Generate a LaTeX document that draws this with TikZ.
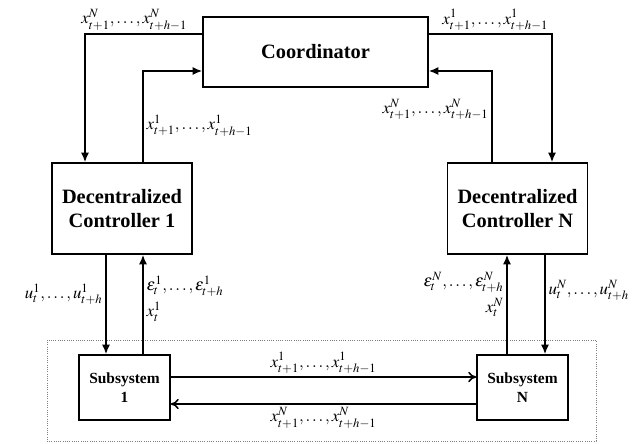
\documentclass[tikz,border=0pt]{standalone}
\usepackage{mathptmx}
\usepackage{fontspec}
\setmainfont{Liberation Serif}
\usepackage{tikz}
\usetikzlibrary{arrows.meta,positioning,calc}
\tikzset{
  blk/.style={draw=black, line width=1.1pt, fill=white, align=center,
              font=\fontsize{14.5}{17}\selectfont\bfseries, inner sep=2pt},
  subb/.style={blk, font=\fontsize{11}{13.5}\selectfont\bfseries,
              minimum width=2.275cm, minimum height=1.625cm},
  ctrl/.style={blk, minimum width=3.5cm, minimum height=2.275cm},
  plantbox/.style={draw=gray, densely dotted, line width=0.6pt},
  arr/.style={-{Latex[length=2.4mm,width=2mm]}, line width=1.1pt},
  harr/.style={-{To[length=2mm,width=2.6mm]}, line width=1.1pt},
  lbl/.style={font=\fontsize{12}{14}\selectfont, inner sep=2pt},
}

\begin{document}
\begin{tikzpicture}
  \useasboundingbox (0,0) rectangle (16.075,11.075);
  % plant boundary
  \node[plantbox, minimum width=13.725cm, minimum height=2.525cm] (plant) at (8.0375,1.3125) {};
  % blocks
  \node[blk, minimum width=5.625cm, minimum height=1.75cm] (coord) at (7.8875,9.775) {Coordinator};
  \node[ctrl] (dcA) at (3.05,5.8625) {Decentralized\\Controller 1};
  \node[ctrl] (dcB) at (12.9375,5.8625) {Decentralized\\Controller N};
  \node[subb] (subA) at (3.1125,1.3875) {Subsystem\\1};
  \node[subb] (subB) at (13.0625,1.3875) {Subsystem\\N};
  % coordinator <-> controllers
  \draw[arr] ([yshift=0.45cm]coord.west) -| ([xshift=-0.925cm]dcA.north)
    node[lbl, above, pos=0.29] {$x^N_{t+1},\ldots,x^N_{t+h-1}$};
  \draw[arr] ([xshift=0.525cm]dcA.north) |- ([yshift=-0.475cm]coord.west)
    node[lbl, right, pos=0.2] {$x^1_{t+1},\ldots,x^1_{t+h-1}$};
  \draw[arr] ([yshift=0.45cm]coord.east) -| ([xshift=0.8625cm]dcB.north)
    node[lbl, above, pos=0.27] {$x^1_{t+1},\ldots,x^1_{t+h-1}$};
  \draw[arr] ([xshift=-0.6375cm]dcB.north) |- ([yshift=-0.475cm]coord.east)
    node[lbl, left, pos=0.29] {$x^N_{t+1},\ldots,x^N_{t+h-1}$};
  % controllers <-> subsystems
  \draw[arr] ([xshift=-0.4cm]dcA.south) -- ([xshift=-0.4cm]dcA.south |- subA.north)
    node[lbl, left, pos=0.4] {$u^1_t,\ldots,u^1_{t+h}$};
  \draw[arr] ([xshift=0.525cm]dcA.south |- subA.north) -- ([xshift=0.525cm]dcA.south)
    node[lbl, right, align=left, pos=0.56] {$\varepsilon^1_t,\ldots,\varepsilon^1_{t+h}$\\[3pt]$x^1_t$};
  \draw[arr] ([xshift=-0.2625cm]dcB.south |- subB.north) -- ([xshift=-0.2625cm]dcB.south)
    node[lbl, left, align=right, pos=0.6] {$\varepsilon^N_t,\ldots,\varepsilon^N_{t+h}$\\[3pt]$x^N_t$};
  \draw[arr] ([xshift=0.6875cm]dcB.south) -- ([xshift=0.6875cm]dcB.south |- subB.north)
    node[lbl, right, pos=0.36] {$u^N_t,\ldots,u^N_{t+h}$};
  % subsystem coupling
  \draw[harr] ([yshift=0.2625cm]subA.east) -- ([yshift=0.2625cm]subA.east -| subB.west)
    node[lbl, above, midway] {$x^1_{t+1},\ldots,x^1_{t+h-1}$};
  \draw[harr] ([yshift=-0.4125cm]subA.east -| subB.west) -- ([yshift=-0.4125cm]subA.east)
    node[lbl, below, midway] {$x^N_{t+1},\ldots,x^N_{t+h-1}$};
\end{tikzpicture}
\end{document}
